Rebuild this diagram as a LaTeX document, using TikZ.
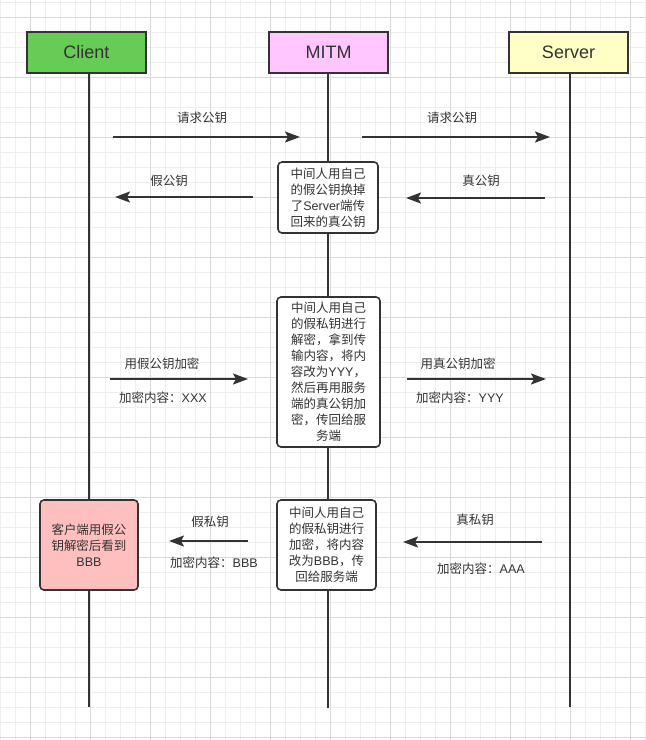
\documentclass[tikz,border=0pt]{standalone}
\usepackage{fontspec}
\setmainfont{Noto Sans CJK SC}
\newfontfamily\latinhead{Liberation Sans}
\newcommand{\lt}[1]{{\latinhead #1}}
\usetikzlibrary{arrows.meta}
\definecolor{gridminor}{RGB}{238,238,238}
\definecolor{gridmajor}{RGB}{218,218,218}
\definecolor{ink}{RGB}{51,51,51}
\definecolor{clientfill}{RGB}{102,204,85}
\definecolor{mitmfill}{RGB}{255,198,255}
\definecolor{serverfill}{RGB}{255,255,198}
\definecolor{redfill}{RGB}{255,191,191}
\tikzset{
  headbox/.style={draw=ink, line width=2pt, minimum width=119pt, minimum height=41pt, inner sep=0pt,
    font=\latinhead\fontsize{18}{20}\selectfont, text=ink},
  notebox/.style={draw=ink, line width=1.6pt, rounded corners=4pt, fill=white, inner sep=0pt,
    align=center, font=\fontsize{12.5}{16}\selectfont, text=ink},
  lifeline/.style={draw=ink, line width=2.8pt},
  msg/.style={draw=ink, line width=2pt, -{Stealth[length=15pt,width=11pt,inset=3pt]}},
  lbl/.style={font=\fontsize{12.5}{14}\selectfont, text=ink, inner sep=0pt}
}
\begin{document}
\begin{tikzpicture}[x=1pt,y=-1pt]
\useasboundingbox (0,0) rectangle (646,740);
\fill[white] (0,0) rectangle (646,740);
% grid
\foreach \i in {0,15,...,645} {\draw[gridminor, line width=0.8pt] (\i,0) -- (\i,740);}
\foreach \j in {2,17,...,740} {\draw[gridminor, line width=0.8pt] (0,\j) -- (646,\j);}
\foreach \i in {30,90,...,645} {\draw[gridmajor, line width=1pt] (\i,0) -- (\i,740);}
\foreach \j in {17,77,...,740} {\draw[gridmajor, line width=1pt] (0,\j) -- (646,\j);}

% headers
\node[headbox, fill=clientfill] (client) at (86.5,52.5) {Client};
\node[headbox, fill=mitmfill] (mitm) at (328.5,52.5) {MITM};
\node[headbox, fill=serverfill] (server) at (568.5,52.5) {Server};

% lifeline ends
\coordinate (cEnd) at (89,707);
\coordinate (mEnd) at (328,708);
\coordinate (sEnd) at (570,707);
\draw[lifeline] (client.south -| cEnd) -- (cEnd);
\draw[lifeline] (mitm.south -| mEnd) -- (mEnd);
\draw[lifeline] (server.south -| sEnd) -- (sEnd);

% notes
\node[notebox, minimum width=100pt, minimum height=71pt] (n1) at (328,197.5)
  {中间人用自己\\的假公钥换掉\\了\lt{Server}端传\\回来的真公钥};
\node[notebox, minimum width=103pt, minimum height=150pt] (n2) at (328.5,372)
  {中间人用自己\\的假私钥进行\\解密，拿到传\\输内容，将内\\容改为\lt{YYY}，\\然后再用服务\\端的真公钥加\\密，传回给服\\务端};
\node[notebox, minimum width=99pt, minimum height=90pt] (n3) at (326.5,545)
  {中间人用自己\\的假私钥进行\\加密，将内容\\改为\lt{BBB}，传\\回给服务端};
\node[notebox, fill=redfill, minimum width=98pt, minimum height=90pt] (n4) at (89,545)
  {客户端用假公\\钥解密后看到\\\lt{BBB}};

% arrow endpoints
\coordinate (a1s) at (113,137); \coordinate (a1e) at (300,137);
\coordinate (a2s) at (362,137); \coordinate (a2e) at (550,137);
\coordinate (a3s) at (253,197); \coordinate (a3e) at (115,197);
\coordinate (a4s) at (545,198); \coordinate (a4e) at (406,198);
\coordinate (a5s) at (110,379); \coordinate (a5e) at (248,379);
\coordinate (a6s) at (407,379); \coordinate (a6e) at (546,379);
\coordinate (a7s) at (248,541); \coordinate (a7e) at (169,541);
\coordinate (a8s) at (542,542); \coordinate (a8e) at (403,542);

\draw[msg] (a1s) -- (a1e);
\draw[msg] (a2s) -- (a2e);
\draw[msg] (a3s) -- (a3e);
\draw[msg] (a4s) -- (a4e);
\draw[msg] (a5s) -- (a5e);
\draw[msg] (a6s) -- (a6e);
\draw[msg] (a7s) -- (a7e);
\draw[msg] (a8s) -- (a8e);

% labels
\node[lbl] (l1) at (202,118) {请求公钥};
\node[lbl] (l2) at (452,118) {请求公钥};
\node[lbl] (l3) at (169,181) {假公钥};
\node[lbl] (l4) at (481,181) {真公钥};
\node[lbl] (l5) at (162,364) {用假公钥加密};
\node[lbl] (l5b) at (163,398) {加密内容：\lt{XXX}};
\node[lbl] (l6) at (458,364) {用真公钥加密};
\node[lbl] (l6b) at (460,398) {加密内容：\lt{YYY}};
\node[lbl] (l7) at (210,522) {假私钥};
\node[lbl] (l7b) at (214,563) {加密内容：\lt{BBB}};
\node[lbl] (l8) at (475,520) {真私钥};
\node[lbl] (l8b) at (481,569) {加密内容：\lt{AAA}};
\end{tikzpicture}
\end{document}
